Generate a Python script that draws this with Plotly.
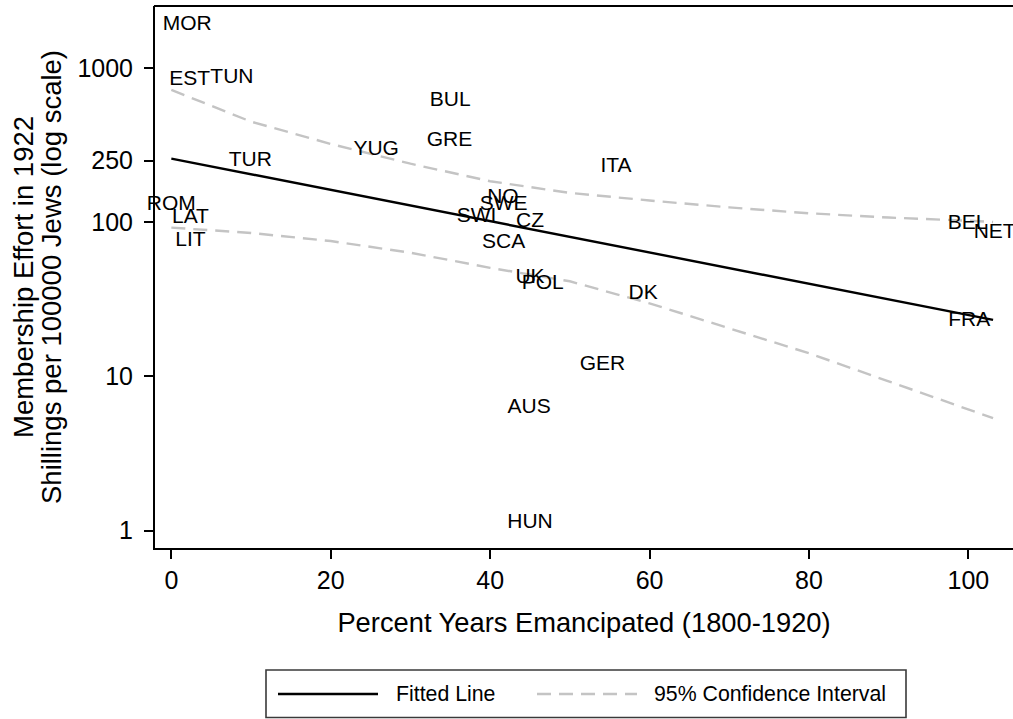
import plotly.graph_objects as go

# ---- data ----
countries = ["MOR", "EST", "TUN", "BUL", "GRE", "YUG", "TUR", "ITA", "ROM", "LAT",
             "LIT", "NO", "SWE", "SWI", "CZ", "SCA", "UK", "POL", "DK", "GER",
             "AUS", "HUN", "BEL", "NET", "FRA"]
emancipated = [2.0, 2.3, 7.6, 35.0, 34.9, 25.7, 9.9, 55.8, 0.0, 2.4,
               2.4, 41.6, 41.7, 38.3, 45.0, 41.7, 45.0, 46.6, 59.2, 54.1,
               44.9, 45.0, 99.9, 103.3, 100.1]
effort = [1900, 840, 862, 608, 335, 294, 248, 228, 130, 106,
          75.3, 144, 130, 108, 101, 72.9, 43.6, 39.9, 34.4, 11.8,
          6.23, 1.12, 98, 85.6, 22.9]

fit_x = [0, 103.1]
fit_y = [258, 23.2]

ci_x = [0, 10, 20, 30, 40, 50, 60, 70, 80, 90, 100, 103.1]
ci_upper = [719, 448, 321, 239, 184, 154.5, 138, 124.5, 114, 107, 102, 100]
ci_lower = [92, 85, 75.3, 63.3, 50.5, 41.3, 29.7, 20.5, 14.1, 9.27, 6.07, 5.35]

x_ticks = [0, 20, 40, 60, 80, 100]
y_ticks = [1, 10, 100, 250, 1000]
y_ticktext = ["1", "10", "100", "250", "1000"]

FONT = "Arial, Liberation Sans, sans-serif"
CI_COLOR = "#c4c4c4"

fig = go.Figure()

fig.add_trace(go.Scatter(x=ci_x, y=ci_upper, mode="lines",
                         line=dict(color=CI_COLOR, width=2.4, dash="14px,8px"),
                         showlegend=False, hoverinfo="skip"))
fig.add_trace(go.Scatter(x=ci_x, y=ci_lower, mode="lines",
                         line=dict(color=CI_COLOR, width=2.4, dash="14px,8px"),
                         showlegend=False, hoverinfo="skip"))
fig.add_trace(go.Scatter(x=fit_x, y=fit_y, mode="lines",
                         line=dict(color="black", width=2.4),
                         showlegend=False, hoverinfo="skip"))
fig.add_trace(go.Scatter(x=emancipated, y=effort, mode="text", text=countries,
                         textposition="middle center",
                         textfont=dict(family=FONT, size=21, color="black"),
                         cliponaxis=False, showlegend=False))

L, R, T, B = 155, 0, 6, 171
W, H = 1013, 719
pw, ph = W - L - R, H - T - B

def px_x(p):
    return (p - L) / pw

def px_y(p):
    return (H - B - p) / ph

# top border of the plot region and manual Stata-style legend
shapes = [
    dict(type="line", xref="paper", yref="paper", x0=-0.0012, x1=1.01, y0=1, y1=1,
         line=dict(color="black", width=2)),
    dict(type="rect", xref="paper", yref="paper",
         x0=px_x(266), x1=px_x(906), y0=px_y(670), y1=px_y(717.5),
         line=dict(color="#3a3a3a", width=1.6), fillcolor="white"),
    dict(type="line", xref="paper", yref="paper",
         x0=px_x(278), x1=px_x(378), y0=px_y(694), y1=px_y(694),
         line=dict(color="black", width=2.4)),
    dict(type="line", xref="paper", yref="paper",
         x0=px_x(537), x1=px_x(637), y0=px_y(694), y1=px_y(694),
         line=dict(color=CI_COLOR, width=2.4, dash="14px,8px")),
]

annotations = [
    dict(text="Fitted Line", xref="paper", yref="paper", x=px_x(394), y=px_y(694),
         xanchor="left", yanchor="middle", showarrow=False,
         font=dict(family=FONT, size=21.3, color="black")),
    dict(text="95% Confidence Interval", xref="paper", yref="paper", x=px_x(652), y=px_y(694),
         xanchor="left", yanchor="middle", showarrow=False,
         font=dict(family=FONT, size=21.3, color="black")),
    dict(text="Membership Effort in 1922", xref="paper", yref="paper",
         x=px_x(23), y=0.5, xanchor="center", yanchor="middle", textangle=-90,
         showarrow=False, font=dict(family=FONT, size=27.5, color="black")),
    dict(text="Shillings per 100000 Jews (log scale)", xref="paper", yref="paper",
         x=px_x(51), y=0.5, xanchor="center", yanchor="middle", textangle=-90,
         showarrow=False, font=dict(family=FONT, size=27.5, color="black")),
]

fig.update_layout(
    width=W, height=H,
    margin=dict(l=L, r=R, t=T, b=B, pad=0),
    paper_bgcolor="white", plot_bgcolor="white",
    font=dict(family=FONT, color="black"),
    shapes=shapes, annotations=annotations,
    xaxis=dict(range=[-2.05, 105.6], tickvals=x_ticks, ticks="outside", ticklen=9,
               tickwidth=1.5, tickcolor="black", showline=True, linecolor="black",
               linewidth=2, mirror=False, showgrid=False, zeroline=False,
               tickfont=dict(family=FONT, size=25, color="black"),
               title=dict(text="Percent Years Emancipated (1800-1920)",
                          font=dict(family=FONT, size=27.3, color="black"), standoff=20)),
    yaxis=dict(type="log", range=[-0.1135, 3.401], tickvals=y_ticks, ticktext=y_ticktext,
               ticks="outside", ticklen=9, tickwidth=1.5, tickcolor="black",
               showline=True, linecolor="black", linewidth=2, showgrid=False,
               mirror=False, zeroline=False, ticklabelstandoff=6,
               tickfont=dict(family=FONT, size=25, color="black")),
)

fig.write_html(
    "out.html",
    config={"displayModeBar": False},
    post_script=("document.documentElement.style.overflow='hidden';"
                 "document.body.style.margin='0';document.body.style.overflow='hidden';"),
)
